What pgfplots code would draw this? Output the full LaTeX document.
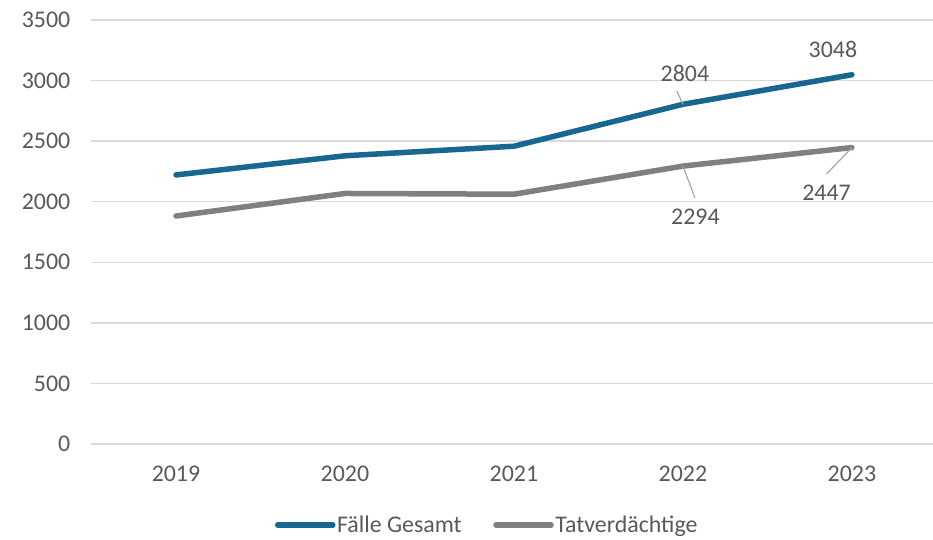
\documentclass[border=0pt]{standalone}
\usepackage{fontspec}
\setmainfont{Carlito}
\usepackage{pgfplots}
\pgfplotsset{compat=1.18}

\definecolor{faelle}{RGB}{24,103,145}
\definecolor{tatv}{RGB}{128,128,128}
\definecolor{gridc}{RGB}{217,217,217}
\definecolor{txt}{RGB}{89,89,89}
\definecolor{leader}{RGB}{166,166,166}

\begin{document}
\begin{tikzpicture}
\begin{axis}[
  name=ax,
  scale only axis,
  width=841.5bp, height=424bp,
  xmin=-0.5, xmax=4.48,
  ymin=0, ymax=3500,
  ytick distance=500,
  xtick={0,1,2,3,4},
  xticklabels={2019,2020,2021,2022,2023},
  axis line style={draw=none},
  major tick length=0pt,
  ymajorgrids,
  grid style={gridc, line width=1.3bp},
  font=\fontsize{24}{28}\selectfont,
  tick label style={text=txt},
  /pgf/number format/assume math mode=true,
  /pgf/number format/1000 sep={},
  yticklabel style={inner sep=0pt, xshift=-21bp},
  xticklabel style={inner sep=0pt, yshift=-22bp},
  clip=false,
  legend columns=2,
  legend style={draw=none, fill=none, at={(0.47,-0.191)}, anchor=center,
    font=\fontsize{24}{28}\selectfont, text=txt,
    nodes={inner sep=1.5bp},
    /tikz/every odd column/.append style={column sep=0bp},
    /tikz/every even column/.append style={column sep=30bp}},
  legend image code/.code={\draw[#1, line cap=round] (0bp,0bp) -- (55bp,0bp);},
]
\addplot[faelle, line width=5.5bp, line join=round, line cap=round] coordinates {
  (0,2221) (1,2379) (2,2458) (3,2804) (4,3048)};
\addlegendentry{Fälle Gesamt}
\addplot[tatv, line width=5.5bp, line join=round, line cap=round] coordinates {
  (0,1882) (1,2068) (2,2062) (3,2294) (4,2447)};
\addlegendentry{Tatverdächtige}

\draw[leader, line width=1.2bp] (axis cs:3,2804) -- (axis cs:2.964,2914);
\draw[leader, line width=1.2bp] (axis cs:3,2294) -- (axis cs:3.071,2033);
\draw[leader, line width=1.2bp] (axis cs:4,2447) -- (axis cs:3.850,2229);
\node[text=txt, inner sep=0pt] at (axis cs:3.012,3062) {2804};
\node[text=txt, inner sep=0pt] at (axis cs:3.888,3261) {3048};
\node[text=txt, inner sep=0pt] at (axis cs:3.074,1874) {2294};
\node[text=txt, inner sep=0pt] at (axis cs:3.850,2072) {2447};
\end{axis}
\pgfresetboundingbox
\path ([xshift=-91.5bp, yshift=-96bp]ax.south west) rectangle ([yshift=20bp]ax.north east);
\end{tikzpicture}
\end{document}
